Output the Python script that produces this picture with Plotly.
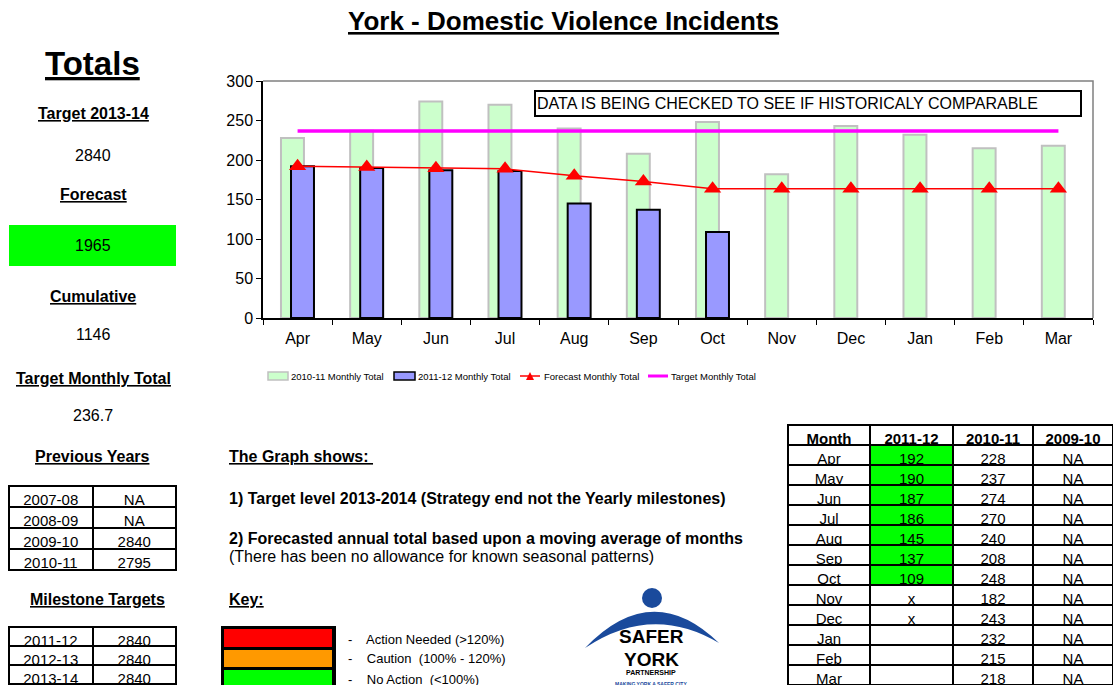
import plotly.graph_objects as go

W, H = 1113, 685

months = ["Apr", "May", "Jun", "Jul", "Aug", "Sep", "Oct", "Nov", "Dec", "Jan", "Feb", "Mar"]
total_2010_11 = [228, 237, 274, 270, 240, 208, 248, 182, 243, 232, 215, 218]
months_2011_12 = ["Apr", "May", "Jun", "Jul", "Aug", "Sep", "Oct"]
total_2011_12 = [192, 190, 187, 186, 145, 137, 109]
forecast_monthly = [192, 191, 189.7, 188.8, 180, 172.8, 163.7, 163.7, 163.7, 163.7, 163.7, 163.7]
target_monthly = [236.7, 236.7, 236.7, 236.7, 236.7, 236.7, 236.7, 236.7, 236.7, 236.7, 236.7, 236.7]

table_headers = ["Month", "2011-12", "2010-11", "2009-10"]
table_2011_12 = ["192", "190", "187", "186", "145", "137", "109", "x", "x", "", "", ""]
table_2010_11 = ["228", "237", "274", "270", "240", "208", "248", "182", "243", "232", "215", "218"]
table_2009_10 = ["NA"] * 12
table_2011_12_fill = ["#00FF00"] * 7 + ["white"] * 5

prev_years = ["2007-08", "2008-09", "2009-10", "2010-11"]
prev_values = ["NA", "NA", "2840", "2795"]
milestone_years = ["2011-12", "2012-13", "2013-14"]
milestone_values = ["2840", "2840", "2840"]

FONT = "Arial, Liberation Sans, sans-serif"


def px(x):
    return x / W


def py(y):
    return 1 - y / H


fig = go.Figure()

fig.add_trace(go.Bar(
    x=months, y=total_2010_11, width=0.332, offset=-0.24,
    marker=dict(color="#CCFFCC", line=dict(color="#C0C0C0", width=2)),
    name="2010-11 Monthly Total", showlegend=False))
fig.add_trace(go.Bar(
    x=months_2011_12, y=total_2011_12, width=0.332, offset=-0.095,
    marker=dict(color="#9999FF", line=dict(color="black", width=2)),
    name="2011-12 Monthly Total", showlegend=False))
fig.add_trace(go.Scatter(
    x=months, y=target_monthly, mode="lines",
    line=dict(color="#FF00FF", width=3.5),
    name="Target Monthly Total", showlegend=False))
fig.add_trace(go.Scatter(
    x=months, y=forecast_monthly, mode="lines+markers",
    line=dict(color="#FF0000", width=1.5),
    marker=dict(symbol="triangle-up", size=15, color="#FF0000"),
    name="Forecast Monthly Total", showlegend=False))

TFONT = dict(family=FONT, size=15, color="black")
TFONT_B = dict(family=FONT, size=15, color="black", weight="bold")
TLINE = dict(color="black", width=2)

# Right-hand monthly table
fig.add_trace(go.Table(
    domain=dict(x=[px(788), 1], y=[0, py(425)]),
    columnwidth=[82, 83, 80, 80],
    header=dict(values=table_headers,
                height=20, align="center", fill=dict(color="white"), line=TLINE, font=TFONT_B),
    cells=dict(values=[months, table_2011_12, table_2010_11, table_2009_10],
               height=20, align="center",
               fill=dict(color=[["white"] * 12, table_2011_12_fill, ["white"] * 12, ["white"] * 12]),
               line=TLINE, font=TFONT)))

# Previous years table (first row used as the header row)
fig.add_trace(go.Table(
    domain=dict(x=[px(9), px(176)], y=[py(571), py(486)]),
    columnwidth=[1, 1],
    header=dict(values=[prev_years[0], prev_values[0]], height=21, align="center",
                fill=dict(color="white"), line=TLINE, font=TFONT),
    cells=dict(values=[prev_years[1:], prev_values[1:]], height=21, align="center",
               fill=dict(color="white"), line=TLINE, font=TFONT)))

# Milestone table (first row used as the header row)
fig.add_trace(go.Table(
    domain=dict(x=[px(9), px(176)], y=[0, py(627)]),
    columnwidth=[1, 1],
    header=dict(values=[milestone_years[0], milestone_values[0]], height=19, align="center",
                fill=dict(color="white"), line=TLINE, font=TFONT),
    cells=dict(values=[milestone_years[1:], milestone_values[1:]], height=19, align="center",
               fill=dict(color="white"), line=TLINE, font=TFONT)))

shapes = []
annotations = []


def ann(x, y, text, size=16, xanchor="center", color="black", family=FONT):
    annotations.append(dict(x=px(x), y=py(y), xref="paper", yref="paper", text=text,
                            showarrow=False, xanchor=xanchor, yanchor="middle",
                            font=dict(family=family, size=size, color=color)))


def rect(x0, y0, x1, y1, fill, line_color=None, lw=0, layer="above"):
    shapes.append(dict(type="rect", xref="paper", yref="paper",
                       x0=px(x0), x1=px(x1), y0=py(y1), y1=py(y0),
                       fillcolor=fill, line=dict(color=line_color or fill, width=lw), layer=layer))


# plot area top/right gray border
shapes.append(dict(type="path", xref="x domain", yref="y domain",
                   path="M 0 1 L 1 1 L 1 0", line=dict(color="#808080", width=1.5), layer="below"))

# Title
ann(563, 21, "<b><u>York - Domestic Violence Incidents</u></b>", size=26)

# Left column
ann(92, 63, "<b><u>Totals</u></b>", size=33)
ann(93, 113, "<b><u>Target 2013-14</u></b>")
ann(93, 155, "2840")
ann(93, 194, "<b><u>Forecast</u></b>")
rect(9, 225, 176, 266, "#00FF00")
ann(93, 245, "1965")
ann(93, 296, "<b><u>Cumulative</u></b>")
ann(93, 335, "1146")
ann(93, 378, "<b><u>Target Monthly Total</u></b>")
ann(93, 415, "236.7")
ann(92, 456, "<b><u>Previous Years</u></b>")
ann(97, 599, "<b><u>Milestone Targets</u></b>")

# Middle text
ann(227, 456, "<b><u>The Graph shows: </u></b>", xanchor="left")
ann(227, 498, "<b>1) Target level 2013-2014 (Strategy end not the Yearly milestones)</b>", xanchor="left")
ann(227, 538, "<b>2) Forecasted annual total based upon a moving average of months</b>", xanchor="left")
ann(227, 556, "(There has been no allowance for known seasonal patterns)", xanchor="left")
ann(227, 599, "<b><u>Key:</u></b>", xanchor="left")

# Key boxes
rect(221, 626, 336, 690, "black")
rect(224, 629, 332, 647, "#FF0000")
rect(224, 650, 332, 667, "#FF9900")
rect(224, 670, 332, 690, "#00FF00")
ann(346, 639, "-    Action Needed (>120%)", size=13, xanchor="left")
ann(346, 658, "-    Caution  (100% - 120%)", size=13, xanchor="left")
ann(346, 679, "-    No Action  (<100%)", size=13, xanchor="left")

# Chart note box
annotations.append(dict(x=px(808), y=py(103.5), xref="paper", yref="paper",
                        text="DATA IS BEING CHECKED TO SEE IF HISTORICALY COMPARABLE",
                        showarrow=False, xanchor="center", yanchor="middle",
                        width=542, height=21, align="left", borderpad=1,
                        bordercolor="black", borderwidth=2, bgcolor="white",
                        font=dict(family=FONT, size=16, color="black")))

# Custom legend
LY = 376
LS = 9.5
rect(268, LY - 4, 288, LY + 4, "#CCFFCC", "#C0C0C0", 1.5)
ann(289, LY, "2010-11 Monthly Total", size=LS, xanchor="left")
rect(394, LY - 4, 415, LY + 4, "#9999FF", "black", 1.5)
ann(416, LY, "2011-12 Monthly Total", size=LS, xanchor="left")
shapes.append(dict(type="line", xref="paper", yref="paper", x0=px(520), x1=px(540),
                   y0=py(LY), y1=py(LY), line=dict(color="#FF0000", width=1.5)))
shapes.append(dict(type="path", xref="paper", yref="paper",
                   path=f"M {px(526)} {py(LY+4)} L {px(534)} {py(LY+4)} L {px(530)} {py(LY-4)} Z",
                   fillcolor="#FF0000", line=dict(color="#FF0000", width=0)))
ann(542, LY, "Forecast Monthly Total", size=LS, xanchor="left")
shapes.append(dict(type="line", xref="paper", yref="paper", x0=px(648), x1=px(668),
                   y0=py(LY), y1=py(LY), line=dict(color="#FF00FF", width=3)))
ann(669, LY, "Target Monthly Total", size=LS, xanchor="left")

# Logo
BLUE = "#1A4A9C"
shapes.append(dict(type="circle", xref="paper", yref="paper",
                   x0=px(642), x1=px(662), y0=py(608), y1=py(588),
                   fillcolor=BLUE, line=dict(color=BLUE, width=0)))
shapes.append(dict(type="path", xref="paper", yref="paper",
                   path=(f"M {px(585)} {py(648)} Q {px(652)} {py(578)} {px(719)} {py(643)} "
                         f"Q {px(652)} {py(603)} {px(585)} {py(648)} Z"),
                   fillcolor=BLUE, line=dict(color=BLUE, width=0)))
ann(651, 636, "<b>SAFER</b>", size=19, family="Liberation Sans, Arial")
ann(651, 659, "<b>YORK</b>", size=19, family="Liberation Sans, Arial")
ann(651, 672, "<b>PARTNERSHIP</b>", size=7)
ann(651, 684, "<b>MAKING YORK A SAFER CITY</b>", size=5, color=BLUE)

fig.update_layout(
    width=W, height=H, autosize=False,
    margin=dict(l=0, r=0, t=0, b=0, pad=0, autoexpand=False),
    paper_bgcolor="white", plot_bgcolor="white",
    barmode="overlay",
    showlegend=False,
    font=dict(family=FONT, color="black"),
    xaxis=dict(domain=[px(263), px(1093)], type="category", range=[-0.5, 11.5],
               showline=True, linecolor="black", linewidth=1.5, automargin=False,
               ticks="outside", tickson="boundaries", ticklen=5, tickcolor="black",
               tickfont=dict(size=16, color="black"), showgrid=False, ticklabelstandoff=5),
    yaxis=dict(domain=[py(318), py(81)], range=[0, 300], dtick=50,
               showline=True, linecolor="black", linewidth=1.5, automargin=False,
               ticks="outside", ticklen=5, tickcolor="black",
               tickfont=dict(size=16, color="black"), showgrid=False, zeroline=False),
    shapes=shapes,
    annotations=annotations,
)

fig.write_html("out.html",
               config={"displayModeBar": False, "responsive": False},
               post_script="document.body.style.margin='0px';document.body.style.overflow='hidden';")
